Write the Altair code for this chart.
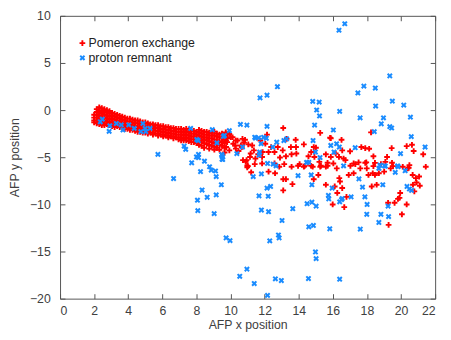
import altair as alt
import pandas as pd

# ---- data ----
# dense band of "Pomeron exchange" events: (x, [y values]) columns
band_cols = [
    (2.0, [-0.5, -0.8, -1.1, -1.3]),
    (2.15, [0.1, -0.2, -0.5, -0.8, -1.1, -1.4]),
    (2.3, [0.3, 0.0, -0.3, -0.6, -0.9, -1.2, -1.5]),
    (2.45, [0.2, -0.1, -0.4, -0.7, -1.0, -1.3, -1.6]),
    (2.6, [0.1, -0.2, -0.5, -0.8, -1.1, -1.4, -1.6]),
    (2.75, [0.0, -0.3, -0.6, -0.9, -1.2, -1.5]),
    (2.9, [-0.1, -0.4, -0.7, -1.0, -1.3, -1.6]),
    (3.05, [-0.3, -0.6, -0.9, -1.2, -1.5, -1.7]),
    (3.2, [-0.4, -0.7, -1.0, -1.3, -1.6, -1.8]),
    (3.35, [-0.5, -0.8, -1.1, -1.4, -1.7]),
    (3.5, [-0.6, -0.9, -1.2, -1.5, -1.8]),
    (3.65, [-0.7, -1.0, -1.3, -1.6, -1.9]),
    (3.8, [-0.8, -1.1, -1.4, -1.7, -2.0]),
    (3.95, [-0.9, -1.2, -1.5, -1.8, -2.0]),
    (4.1, [-0.9, -1.2, -1.5, -1.8, -2.1]),
    (4.25, [-1.0, -1.3, -1.6, -1.9, -2.1]),
    (4.4, [-1.1, -1.4, -1.7, -2.0, -2.2]),
    (4.55, [-1.1, -1.4, -1.7, -2.0, -2.3]),
    (4.7, [-1.2, -1.5, -1.8, -2.1, -2.3]),
    (4.85, [-1.3, -1.6, -1.9, -2.2, -2.4]),
    (5.0, [-1.3, -1.6, -1.9, -2.2, -2.4]),
    (5.15, [-1.4, -1.7, -2.0, -2.3, -2.5]),
    (5.3, [-1.5, -1.8, -2.1, -2.4]),
    (5.45, [-1.5, -1.8, -2.1, -2.4, -2.6]),
    (5.6, [-1.6, -1.9, -2.2, -2.5]),
    (5.75, [-1.6, -1.9, -2.2, -2.5, -2.7]),
    (5.9, [-1.7, -2.0, -2.3, -2.6]),
    (6.05, [-1.7, -2.0, -2.3, -2.6, -2.8]),
    (6.2, [-1.8, -2.1, -2.4, -2.7]),
    (6.35, [-1.8, -2.1, -2.4, -2.7, -2.9]),
    (6.5, [-1.9, -2.2, -2.5, -2.8]),
    (6.65, [-1.9, -2.2, -2.5, -2.8, -3.0]),
    (6.8, [-2.0, -2.3, -2.6, -2.9]),
    (6.95, [-2.0, -2.3, -2.6, -2.9, -3.1]),
    (7.1, [-2.0, -2.3, -2.6, -2.9, -3.2]),
    (7.25, [-2.1, -2.4, -2.7, -3.0, -3.2]),
    (7.4, [-2.0, -2.3, -2.6, -2.9, -3.2]),
    (7.55, [-2.1, -2.4, -2.7, -3.0, -3.3]),
    (7.7, [-2.2, -2.5, -2.8, -3.1, -3.4]),
    (7.85, [-2.2, -2.5, -2.8, -3.1, -3.4]),
    (8.0, [-2.3, -2.6, -2.9, -3.2, -3.5]),
    (8.15, [-2.1, -2.4, -2.7, -3.0, -3.3, -3.7]),
    (8.3, [-2.2, -2.5, -2.8, -3.1, -3.4, -3.8]),
    (8.45, [-2.3, -2.6, -2.9, -3.2, -3.5, -4.0]),
    (8.6, [-2.3, -2.6, -2.9, -3.2, -3.6]),
    (8.75, [-2.4, -2.7, -3.0, -3.3, -3.7, -4.1]),
    (8.9, [-2.4, -2.7, -3.0, -3.4, -3.8]),
    (9.05, [-2.3, -2.7, -3.1, -3.5, -3.9, -4.2]),
    (9.2, [-2.5, -2.8, -3.2, -3.6, -4.0]),
    (9.35, [-2.6, -2.9, -3.3, -3.7, -4.2]),
    (9.5, [-2.5, -2.9, -3.4, -3.8]),
    (9.65, [-2.7, -3.1, -3.5, -4.0, -4.5]),
    (9.8, [-2.6, -3.0, -3.4]),
]

# scattered "Pomeron exchange" events
pom_x = [13.09, 15.26, 15.84, 16.51, 18.24, 19.45, 20.33, 20.64, 20.74, 21.30, 21.45, 20.45,
         17.67, 17.90, 18.13, 17.01, 16.63, 16.74, 17.22, 17.51, 17.96, 18.38, 18.47, 19.08,
         19.18, 19.53, 15.88, 16.17, 16.36, 16.55, 15.59, 14.88, 15.01, 14.73, 14.57, 14.92,
         15.21, 15.30, 14.30, 13.82, 13.54, 13.84, 13.58, 13.86, 13.25, 13.06, 12.77, 12.58,
         12.38, 12.23, 12.04, 11.85, 11.62, 11.37, 11.14, 11.04, 10.85, 10.66, 10.47, 10.27,
         10.73, 10.98, 11.42, 11.85, 12.90, 13.15, 13.58, 13.96, 14.30, 14.73, 15.69, 16.23,
         17.03, 17.61,
         10.89, 11.02, 11.21, 12.23, 12.58, 12.61, 12.86, 13.09, 13.25, 13.09, 13.63, 14.05,
         14.34, 14.53, 14.82, 14.88, 15.15, 15.26, 15.59, 15.69, 15.59, 16.03, 15.99, 16.11,
         16.26, 16.38, 16.42, 16.55, 16.67, 16.80, 16.93, 17.22, 17.32, 17.90, 17.99, 18.09,
         18.28, 18.34, 18.38, 18.47, 18.57, 18.70, 18.82, 19.01, 19.24, 19.27, 19.39, 19.47,
         19.62, 19.82, 19.91, 19.95, 20.05, 20.10, 20.33, 20.39, 20.49, 20.68, 20.70, 20.78,
         20.87, 20.91, 21.06, 21.10,
         9.74, 10.02, 10.16, 10.41, 10.70, 10.79, 10.60, 11.18, 11.46, 11.27, 11.75, 11.88,
         10.94, 10.98, 10.31, 9.93, 9.74, 9.54, 9.93, 10.12, 9.72, 10.31, 12.14, 15.88, 13.29]
pom_y = [-1.90, -2.42, -2.94, -3.15, -2.36, -4.03, -3.82, -3.68, -4.34, -4.69, -6.01, -6.12,
         -3.92, -4.03, -4.10, -4.37, -5.14, -5.31, -5.66, -5.55, -5.55, -4.90, -5.60, -5.49,
         -4.97, -5.94, -4.97, -4.61, -4.97, -4.27, -4.69, -3.92, -3.99, -4.45, -4.90, -4.97,
         -5.49, -5.91, -3.64, -3.15, -3.92, -3.92, -4.69, -4.61, -4.90, -4.27, -3.92, -4.45,
         -3.92, -4.45, -3.57, -4.97, -4.69, -4.27, -4.97, -3.64, -3.15, -3.92, -4.34, -3.75,
         -5.31, -5.91, -5.73, -5.66, -5.03, -5.73, -6.01, -5.91, -6.01, -5.91, -5.91, -6.18,
         -5.91, -6.18,
         -5.49, -5.94, -6.60, -6.53, -5.66, -6.70, -6.01, -7.33, -7.33, -8.52, -7.85, -5.73,
         -5.94, -5.59, -6.01, -7.33, -6.88, -6.01, -6.01, -5.59, -7.92, -5.66, -10.01, -8.10,
         -8.79, -7.22, -7.58, -8.27, -10.29, -9.21, -6.88, -6.70, -5.73, -5.59, -6.18, -6.88,
         -8.10, -6.70, -5.94, -6.88, -7.92, -6.70, -5.73, -6.53, -9.83, -12.17, -6.18, -5.59,
         -9.83, -9.42, -9.31, -8.79, -11.05, -6.01, -10.01, -6.18, -5.84, -6.88, -7.92, -8.62,
         -7.22, -7.68, -7.05, -8.02,
         -3.23, -2.88, -3.57, -3.23, -3.05, -3.47, -3.75, -4.61, -5.14, -3.75, -3.23, -4.45,
         -5.31, -6.08, -4.09, -4.27, -3.92, -3.40, -2.53, -2.88, -2.36, -3.23, -2.60, -2.98, -3.05]

# "proton remnant" events
rem_x = [16.36, 16.70, 11.73, 12.14, 12.75, 14.82, 15.20, 15.05, 15.22, 16.40, 17.47, 17.82,
         18.49, 19.34, 19.49, 18.51, 17.60, 18.97, 20.16, 20.55, 18.84, 19.34, 19.45, 18.43,
         20.60, 21.41, 19.97, 17.31, 16.03, 14.93, 12.14, 10.58, 10.96, 9.93, 9.58, 11.42,
         11.65, 12.10, 11.79, 11.71, 11.68, 13.29, 13.13, 12.71, 12.48, 10.70, 10.37, 9.50,
         9.50, 14.84, 14.98, 15.25, 15.88, 16.22, 16.38, 16.07, 16.63, 18.76, 19.03, 19.80,
         14.46, 14.59, 12.17, 12.50, 12.67, 9.20, 2.36, 2.48, 2.92, 2.88, 3.30, 3.69,
         3.59, 4.03, 4.35, 4.74, 4.86, 4.99, 5.03, 5.28, 5.74, 7.66, 7.28, 7.37,
         8.02, 8.12, 8.12, 8.93, 7.72, 8.47, 8.77, 8.87, 9.54, 9.54, 9.64, 6.66,
         8.24, 9.12, 9.16, 9.46, 8.33, 8.63, 9.16, 8.06, 8.08, 9.04, 9.74, 9.97,
         10.54, 10.96, 11.39, 12.17, 12.63, 12.98, 12.30, 12.81, 12.85, 13.02, 13.65, 12.23,
         11.81, 11.67, 12.21, 12.14, 12.35, 11.33, 11.81, 13.96, 14.73, 14.77, 14.49, 14.77,
         15.02, 14.59, 14.86, 14.98, 15.02, 14.57, 16.40, 15.82, 15.74, 15.76, 15.96, 16.40,
         16.51, 16.55, 17.07, 17.53, 17.74, 17.88, 18.01, 17.99, 17.61, 18.93, 18.70, 19.08,
         18.82, 18.70, 19.24, 19.27, 19.66, 20.24, 20.35, 20.49, 20.62, 19.83, 11.46, 11.94,
         8.10, 8.00, 9.48]
rem_y = [8.47, 9.16, 1.29, 1.58, 2.48, 0.92, 0.85, 0.01, -0.62, -0.13, 1.82, 2.55,
         2.34, 3.63, 0.95, 0.43, -0.82, -0.82, 0.53, -0.75, -1.45, -1.76, -1.90, -2.29,
         -2.81, -3.92, -4.61, -3.99, -2.11, -1.59, -1.73, -1.52, -1.59, -2.18, -2.78, -2.88,
         -2.94, -2.99, -3.57, -4.45, -4.79, -3.05, -3.23, -3.40, -3.92, -3.92, -4.61, -4.72,
         -5.21, -3.23, -4.45, -5.03, -3.75, -3.57, -3.92, -4.45, -5.91, -5.84, -5.91, -5.91,
         -5.55, -5.55, -5.66, -5.73, -5.91, -3.47, -1.24, -0.96, -1.66, -2.25, -1.42, -2.11,
         -1.56, -1.56, -1.94, -2.29, -1.42, -1.94, -2.29, -1.94, -4.69, -1.94, -3.82, -4.16,
         -3.12, -4.69, -5.03, -2.08, -5.59, -5.42, -6.01, -6.36, -4.97, -5.24, -2.70, -7.26,
         -6.53, -6.46, -7.05, -7.92, -8.48, -9.25, -9.00, -9.56, -10.67, -10.98, -13.56, -13.84,
         -17.63, -16.87, -18.40, -19.65, -17.90, -18.08, -13.87, -13.25, -13.56, -11.71, -10.46, -10.78,
         -10.60, -9.10, -9.14, -8.27, -8.10, -7.05, -6.77, -6.95, -6.88, -7.92, -9.93, -9.77,
         -10.19, -12.38, -12.24, -15.05, -15.75, -17.87, -17.94, -12.59, -9.04, -9.42, -8.27, -9.73,
         -9.49, -9.38, -9.21, -7.30, -8.17, -9.20, -10.01, -11.05, -12.62, -7.92, -6.18, -5.94,
         -11.05, -11.92, -10.19, -11.30, -6.60, -6.43, -8.10, -8.37, -8.52, -6.01, -2.98, -2.88,
         -3.23, -4.97, -4.72]

series_names = ["Pomeron exchange", "proton remnant"]
series_colors = ["#ff0000", "#1a8cff"]
x_ticks = [0, 2, 4, 6, 8, 10, 12, 14, 16, 18, 20, 22]
y_ticks = [-20, -15, -10, -5, 0, 5, 10]

# ---- build table ----
rows = []
for bx, ys in band_cols:
    for by in ys:
        rows.append({"x": bx, "y": by, "s": series_names[0], "o": 0})
for px, py in zip(pom_x, pom_y):
    rows.append({"x": px, "y": py, "s": series_names[0], "o": 0})
for rx, ry in zip(rem_x, rem_y):
    rows.append({"x": rx, "y": ry, "s": series_names[1], "o": 1})
df = pd.DataFrame(rows)

PLUS = "M-1,-0.33H-0.33V-1H0.33V-0.33H1V0.33H0.33V1H-0.33V0.33H-1Z"
XMARK = "M-0.5,-1L0,-0.5L0.5,-1L1,-0.5L0.5,0L1,0.5L0.5,1L0,0.5L-0.5,1L-1,0.5L-0.5,0L-1,-0.5Z"

W, H = 382, 288
FONT = "Liberation Sans"
TXT = "#404040"
FRAME = "#555555"
TICK = 5

xscale = alt.Scale(domain=[0, 22], nice=False, zero=False)
yscale = alt.Scale(domain=[-20, 10], nice=False, zero=False)

common = dict(ticks=True, tickSize=TICK, tickColor=FRAME, tickWidth=1, domain=False,
              grid=False, offset=-TICK, labelOverlap=False, labelFontSize=12.5,
              titleFontSize=12.5, labelFont=FONT, titleFont=FONT, labelColor=TXT,
              titleColor=TXT, titleFontWeight="normal", format="d")

leg = alt.Legend(title=None, orient="none", legendX=16.5, legendY=21.5,
                 symbolSize=34, labelFontSize=12.5, labelFont=FONT,
                 labelColor="#222222", rowPadding=2, labelOffset=0, padding=0)

points = alt.Chart(df).mark_point(filled=True, opacity=1, size=34, strokeWidth=0).encode(
    x=alt.X("x:Q", scale=xscale,
            axis=alt.Axis(values=x_ticks, title="AFP x position", orient="bottom",
                          labelPadding=6, titlePadding=2, **common)),
    y=alt.Y("y:Q", scale=yscale,
            axis=alt.Axis(values=y_ticks, title="AFP y position", orient="left",
                          labelPadding=10, titlePadding=8, **common)),
    color=alt.Color("s:N", scale=alt.Scale(domain=series_names, range=series_colors), legend=leg),
    shape=alt.Shape("s:N", scale=alt.Scale(domain=series_names, range=[PLUS, XMARK]), legend=leg),
    order=alt.Order("o:Q"),
)

# second layer only carries the inward ticks of the top and right frame sides
corner = pd.DataFrame({"x": [0], "y": [-20]})
frame_ticks = alt.Chart(corner).mark_point(opacity=0).encode(
    x=alt.X("x:Q", scale=xscale,
            axis=alt.Axis(values=x_ticks, title=None, orient="top", labels=False, **common)),
    y=alt.Y("y:Q", scale=yscale,
            axis=alt.Axis(values=y_ticks, title=None, orient="right", labels=False, **common)),
)

chart = alt.layer(points, frame_ticks).resolve_axis(
    x="independent", y="independent"
).properties(
    width=W, height=H,
    autosize=alt.AutoSizeParams(type="none"),
    padding={"left": 53, "top": 5, "right": 8, "bottom": 31},
    background="white",
).configure_view(
    stroke=FRAME, strokeWidth=1
)

chart.save("out.html", embed_options={"renderer": "svg", "actions": False})
